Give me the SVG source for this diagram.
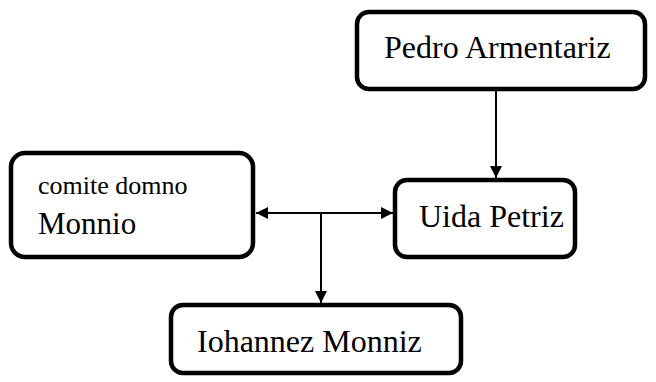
<svg xmlns="http://www.w3.org/2000/svg" width="656" height="382" viewBox="0 0 656 382">
<style>
.box{fill:#fff;stroke:#000;stroke-width:4.5}
.t{font-family:"Liberation Serif","Times New Roman",serif;fill:#000;font-size:32px}
.c{stroke:#000;stroke-width:2;fill:none}
</style>
<defs>
<marker id="ah" viewBox="0 0 10 10" refX="10" refY="5" markerWidth="14" markerHeight="12" markerUnits="userSpaceOnUse" orient="auto-start-reverse"><path d="M0,0 L10,5 L0,10 z" fill="#000"/></marker>
</defs>
<rect width="656" height="382" fill="#fff"/>
<g id="pedro"><rect class="box" x="357" y="12" width="288" height="77" rx="12"/><text class="t" x="384" y="58">Pedro Armentariz</text></g>
<g id="monnio"><rect class="box" x="11" y="153" width="242" height="104" rx="14"/><text class="t" x="38" y="194" style="font-size:26px">comite domno</text><text class="t" x="38" y="234" style="font-size:31px">Monnio</text></g>
<g id="uida"><rect class="box" x="395" y="180" width="180" height="77" rx="12"/><text class="t" x="419" y="227">Uida Petriz</text></g>
<g id="iohannez"><rect class="box" x="171" y="305" width="290" height="68" rx="12"/><text class="t" x="197" y="352">Iohannez Monniz</text></g>
<g id="connectors">
<line class="c" x1="496" y1="91" x2="496" y2="178" marker-end="url(#ah)"/>
<line class="c" x1="256" y1="213" x2="393" y2="213" marker-start="url(#ah)" marker-end="url(#ah)"/>
<line class="c" x1="321" y1="213" x2="321" y2="303" marker-end="url(#ah)"/>
</g>
</svg>
